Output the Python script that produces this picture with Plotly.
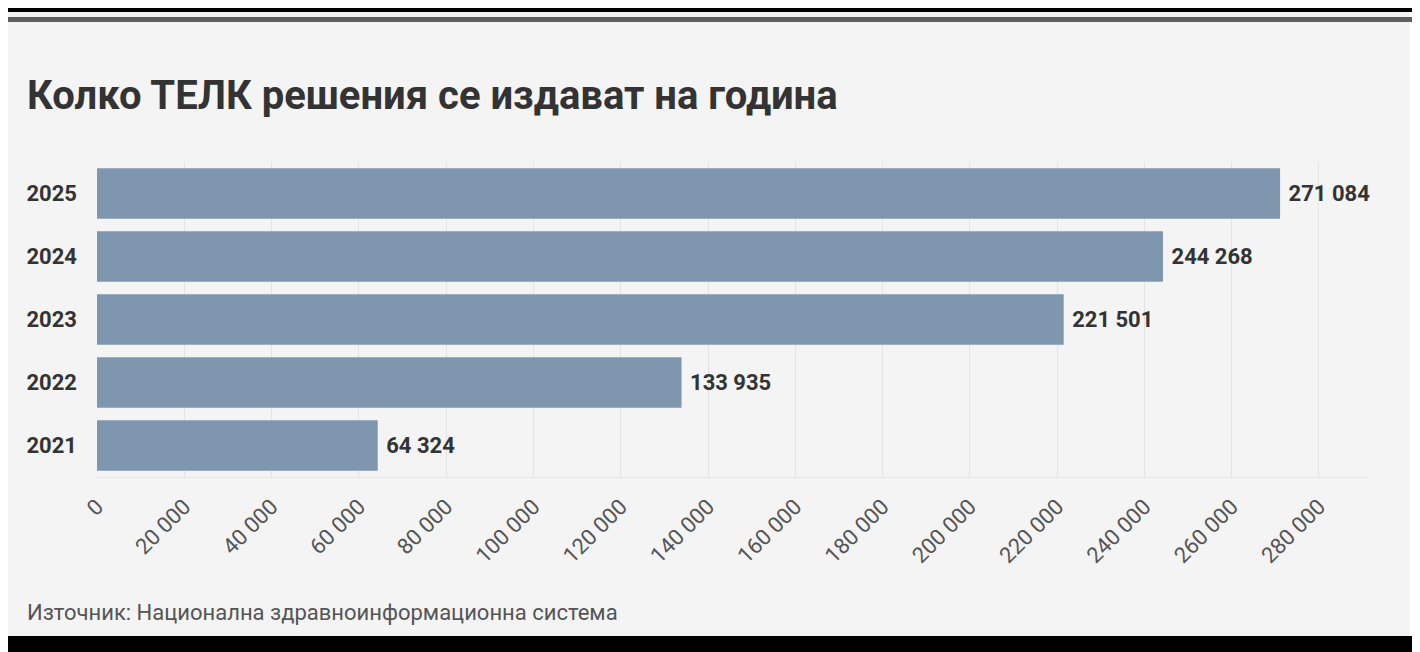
import plotly.graph_objects as go

years = ["2021", "2022", "2023", "2024", "2025"]
decisions = [64324, 133935, 221501, 244268, 271084]
x_ticks = list(range(0, 280001, 20000))

title_text = "Колко ТЕЛК решения се издават на година"
source_text = "Източник: Национална здравноинформационна система"

W, H = 1420, 652
OFF = 8  # the page body margin shifts the figure by this much
L, R, T, B = 97 - OFF, 61, 162 - OFF, 183  # plot area margins in px


def px_x(p):
    # window pixel -> paper fraction
    return (p - OFF - L) / (W - L - R)


def px_y(p):
    return (H - B - (p - OFF)) / (H - T - B)


def band(x0, x1, y0, y1, color, layer="above"):
    return dict(type="rect", xref="paper", yref="paper",
                x0=px_x(x0), x1=px_x(x1), y0=px_y(y1), y1=px_y(y0),
                fillcolor=color, line=dict(width=0), layer=layer)


fig = go.Figure(
    go.Bar(
        x=decisions,
        y=years,
        orientation="h",
        marker=dict(color="#7f97ae", line=dict(width=0)),
        texttemplate=" %{x:,}",
        textposition="outside",
        textfont=dict(family="Roboto", size=22, color="#333333", weight="bold"),
        cliponaxis=False,
        hoverinfo="skip",
    )
)

shapes = [
    band(-20, W + 20, -20, 12, "black"),
    band(-20, W + 20, 636, H + 20, "black"),
    band(1410, W + 20, 12, 636, "white", "below"),
    band(5, 1415, 17, 22, "#5e5e5e"),
]

fig.update_layout(
    width=W,
    height=H,
    margin=dict(l=L, r=R, t=T, b=B),
    paper_bgcolor="#f4f4f4",
    plot_bgcolor="#f4f4f4",
    separators=". ",
    bargap=0.2,
    showlegend=False,
    shapes=shapes,
    font=dict(family="Roboto", color="#333333"),
    annotations=[
        dict(text=title_text, x=px_x(25), y=px_y(95), xref="paper", yref="paper",
             xanchor="left", yanchor="middle", showarrow=False,
             font=dict(family="Roboto", size=40, color="#333333", weight="bold")),
        dict(text=source_text, x=px_x(25), y=px_y(612), xref="paper", yref="paper",
             xanchor="left", yanchor="middle", showarrow=False,
             font=dict(family="Roboto", size=22, color="#555555")),
    ],
    xaxis=dict(
        range=[0, 291000],
        tickvals=x_ticks,
        tickformat=",",
        tickangle=-45,
        tickfont=dict(family="Roboto", size=22, color="#555555"),
        ticklabelstandoff=7,
        showgrid=True,
        gridcolor="#e4e4e4",
        zeroline=False,
        showline=True,
        linecolor="#e4e4e4",
        ticks="",
    ),
    yaxis=dict(
        tickfont=dict(family="Roboto", size=22, color="#333333", weight="bold"),
        ticks="",
        ticklabelstandoff=19,
        showgrid=False,
        zeroline=False,
    ),
)

fig.write_html("out.html")
